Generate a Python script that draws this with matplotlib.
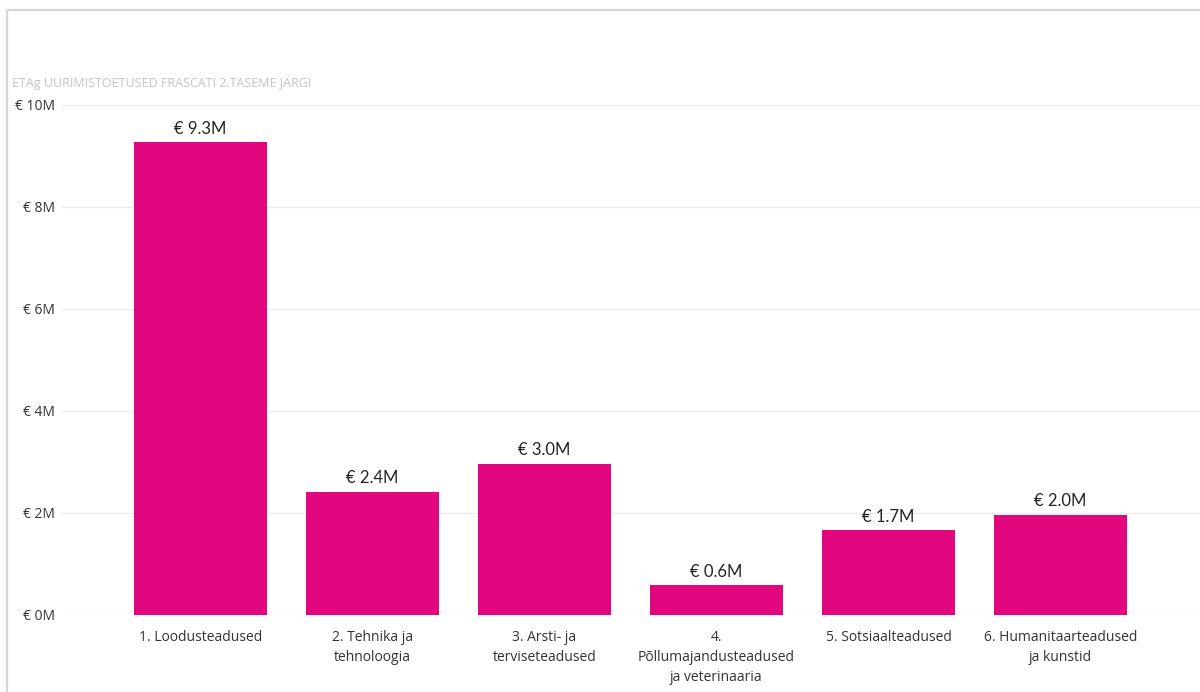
import matplotlib.pyplot as plt
from matplotlib.patches import Rectangle
from matplotlib.ticker import FuncFormatter

categories = ['1. Loodusteadused', '2. Tehnika ja\ntehnoloogia', '3. Arsti- ja\nterviseteadused',
              '4.\nPõllumajandusteadused\nja veterinaaria', '5. Sotsiaalteadused',
              '6. Humanitaarteadused\nja kunstid']
# toetused, miljonit eurot
values = [9.27, 2.42, 2.97, 0.58, 1.66, 1.97]
yticks = [0, 2, 4, 6, 8, 10]

W, H = 1200, 692
fig = plt.figure(figsize=(12, 6.92), dpi=100)
fig.patch.set_facecolor('white')

# visuaali raam
fig.patches.append(Rectangle((7 / W, -0.05), 1.2, 1 - 10 / H + 0.05, transform=fig.transFigure,
                             fill=False, edgecolor='#d6d6d6', linewidth=1.6))

ax = fig.add_axes([62 / W, 1 - 615 / H, (1200 - 62) / W, (615 - 105) / H])
x = range(len(values))
ax.bar(x, values, width=0.775, color='#e3077f', zorder=2)

for xi, v in zip(x, values):
    ax.annotate(f'€ {v:.1f}M', (xi, v), xytext=(0, 4), textcoords='offset points',
                ha='center', va='bottom', fontsize=12, color='#252423', family='Lato')

ax.set_xlim(-0.805, 5.811)
ax.set_ylim(0, 10)
ax.set_yticks(yticks)
ax.yaxis.set_major_formatter(FuncFormatter(lambda v, p: f'€ {v:.0f}M'))
ax.grid(axis='y', color='#ececec', linewidth=1, zorder=0)
for s in ax.spines.values():
    s.set_visible(False)
ax.tick_params(axis='y', length=0, pad=5, labelsize=10, labelcolor='#333333')
ax.set_xticks(list(x))
ax.set_xticklabels(categories, fontsize=10, color='#333333', linespacing=1.45)
ax.tick_params(axis='x', length=0, pad=11)
for lbl in ax.get_xticklabels() + ax.get_yticklabels():
    lbl.set_family('Open Sans')

fig.text(12 / W, 1 - 83 / H, 'ETAg UURIMISTOETUSED FRASCATI 2.TASEME JÄRGI', fontsize=9,
         color='#c4c4c4', va='center', ha='left', family='Open Sans')

fig.savefig('out.png', dpi=100, facecolor='white')
